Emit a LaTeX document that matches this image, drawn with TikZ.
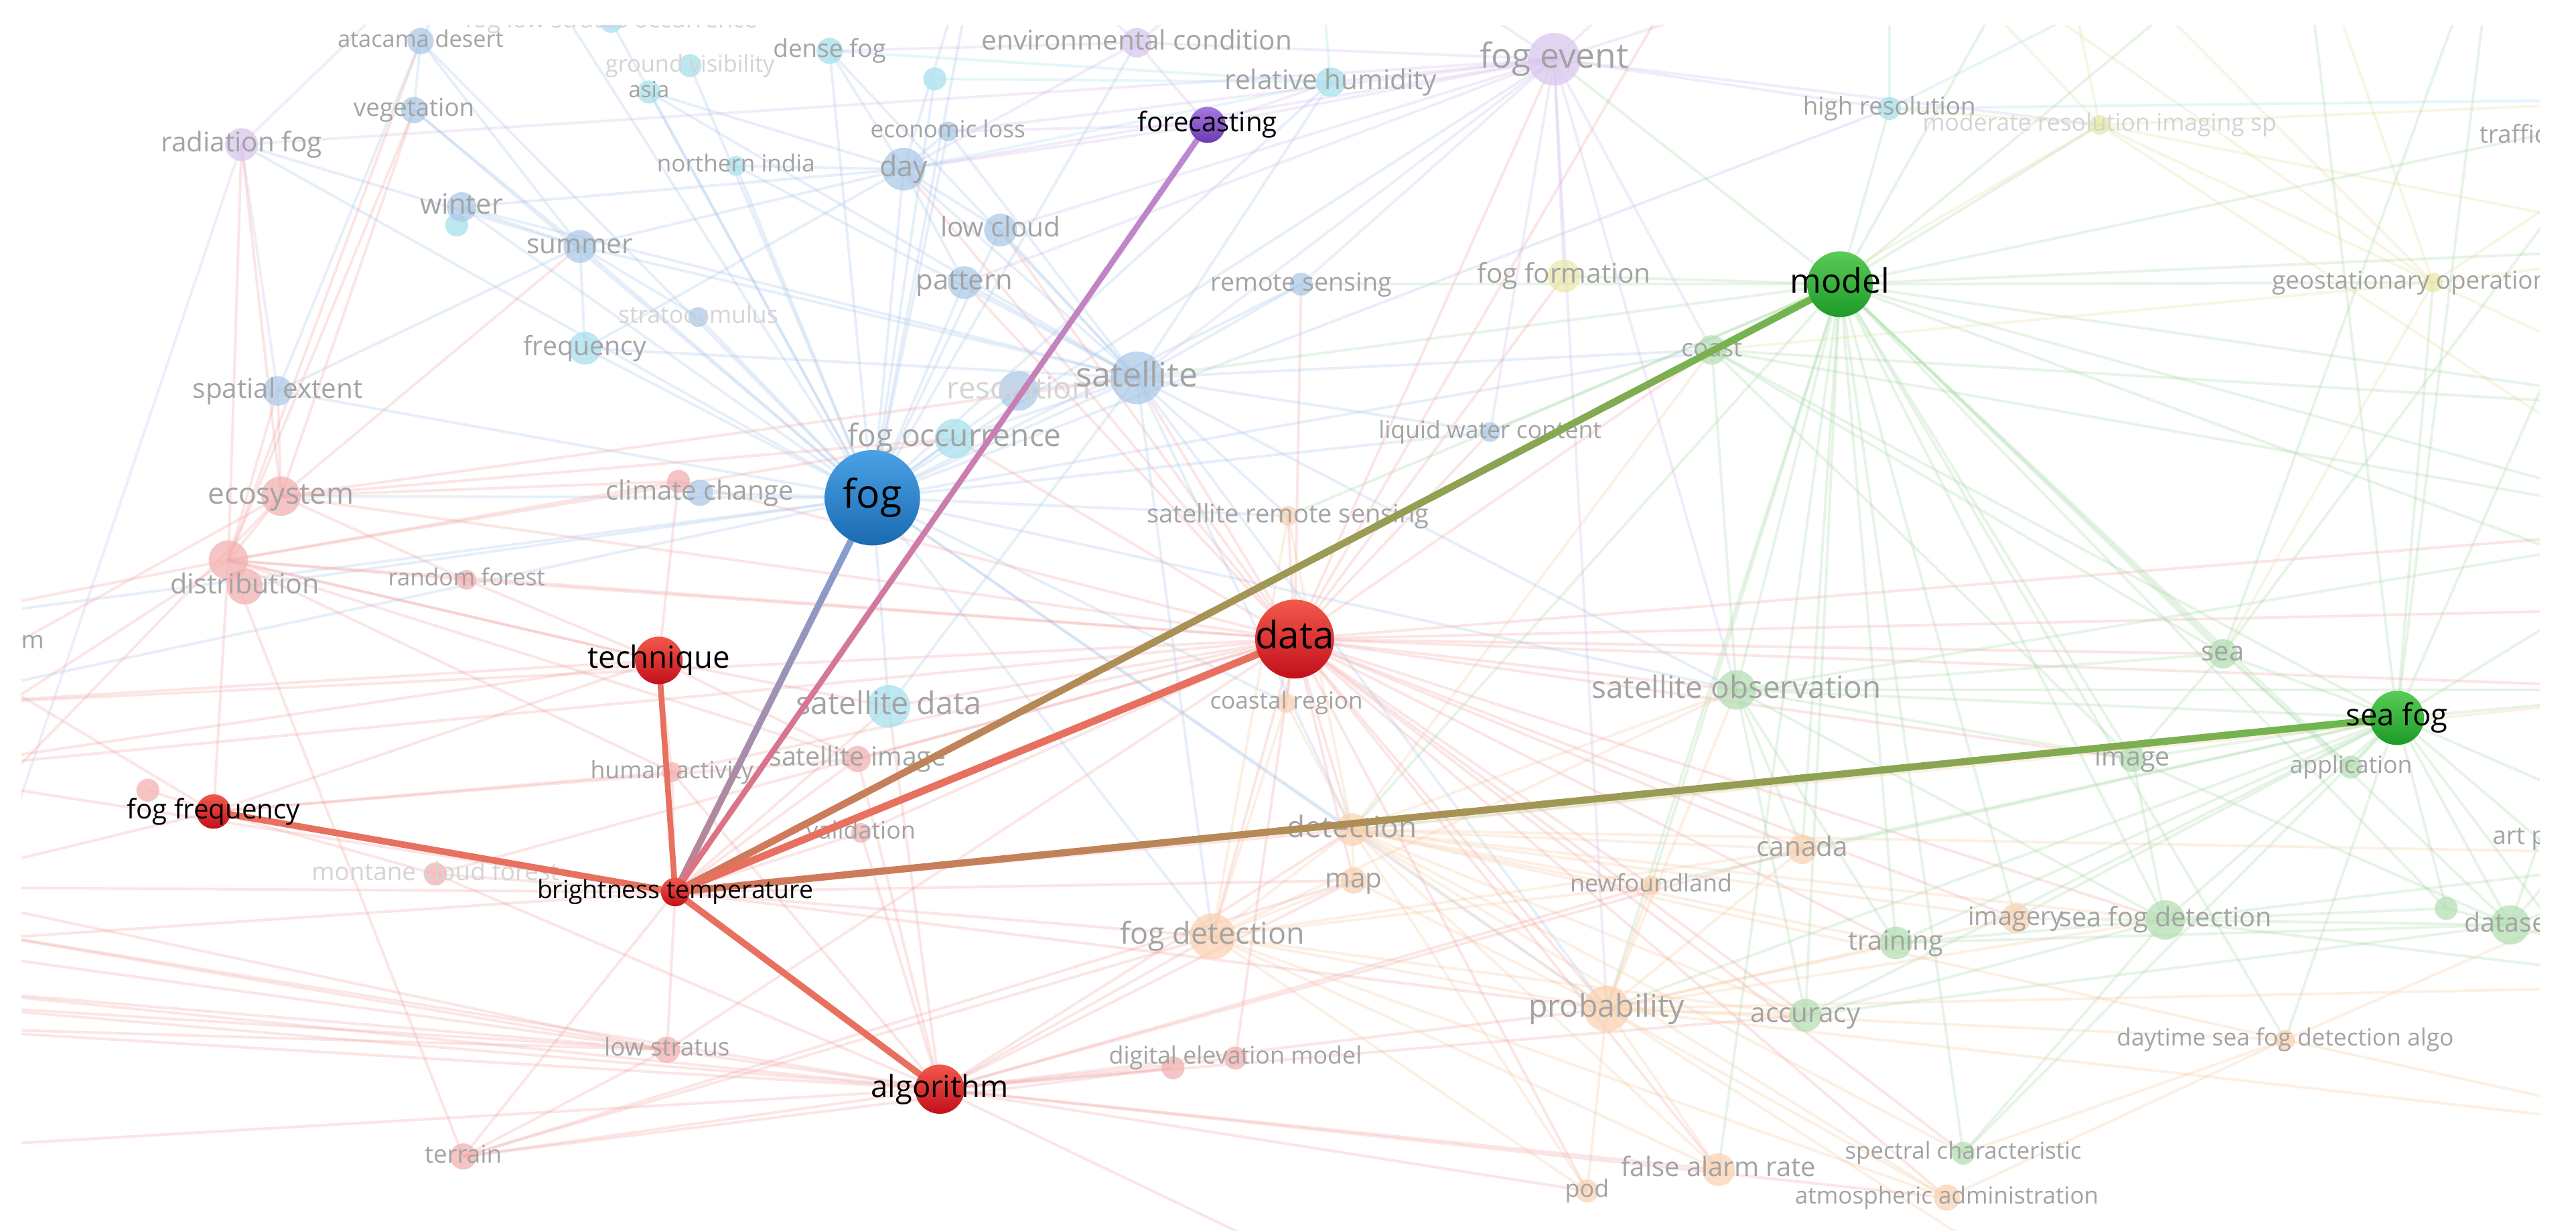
\documentclass[tikz,border=0pt]{standalone}
\usepackage{fontspec}
\setmainfont{Open Sans}
\usetikzlibrary{calc}
\pgfdeclarelayer{bgedge}
\pgfdeclarelayer{bgnode}
\pgfdeclarelayer{hledge}
\pgfsetlayers{bgedge,bgnode,hledge,main}

\definecolor{fBlue}{HTML}{A9C8E8}
\definecolor{fCyan}{HTML}{A6E0EC}
\definecolor{fRed}{HTML}{F2B0B0}
\definecolor{fOrange}{HTML}{FAD2B0}
\definecolor{fGreen}{HTML}{B2DEB2}
\definecolor{fPurple}{HTML}{D8C6EE}
\definecolor{fYellow}{HTML}{E8E8A8}
\definecolor{eBlue}{HTML}{9EC2EA}
\definecolor{eCyan}{HTML}{98DCEA}
\definecolor{eRed}{HTML}{F29A9A}
\definecolor{eOrange}{HTML}{F7C496}
\definecolor{eGreen}{HTML}{9ED69E}
\definecolor{ePurple}{HTML}{CDB2EA}
\definecolor{eYellow}{HTML}{DEDE96}
\definecolor{lg}{HTML}{A3A3A3}
\definecolor{lf}{HTML}{D4D4D4}
\definecolor{hRedT}{HTML}{F2594B}
\definecolor{hRedB}{HTML}{C30F1C}
\definecolor{hBlueT}{HTML}{4BA2E6}
\definecolor{hBlueB}{HTML}{1A6AB0}
\definecolor{hGreenT}{HTML}{5ACB57}
\definecolor{hGreenB}{HTML}{1D9A27}
\definecolor{hPurpleT}{HTML}{A678E2}
\definecolor{hPurpleB}{HTML}{6A3BAE}
\definecolor{eHL}{HTML}{E8705F}
\definecolor{eFogA}{HTML}{BE8290}
\definecolor{eFogB}{HTML}{7FA0D8}
\definecolor{eFcA}{HTML}{E0707E}
\definecolor{eFcB}{HTML}{BA88D6}
\definecolor{eMdA}{HTML}{D9735C}
\definecolor{eMdB}{HTML}{6CB84E}

\tikzset{
  fdot/.style={circle, inner sep=0pt, draw=none, fill opacity=0.72},
  hdot/.style={circle, inner sep=0pt, draw=none},
  lab/.style={inner sep=0pt},
  fedge/.style={line width=1.6pt, draw opacity=0.25},
}

% faint node: name, x, y, radius, fill, label, font size, label colour
\newcommand{\fnode}[8]{%
  \node[fdot, fill=#5, minimum size={2*#4pt}] (#1) at (#2,#3) {};
  \node[lab, text=#8, font=\fontsize{#7}{#7}\selectfont, text height={0.76*#7pt}, text depth={0.24*#7pt}] (#1-l) at (#2,#3) {#6};}
% highlighted node: name, x, y, radius, top colour, bottom colour, label, font size
\newcommand{\hnode}[8]{%
  \node[hdot, top color=#5, bottom color=#6, minimum size={2*#4pt}] (#1) at (#2,#3) {};
  \node[lab, text=black, font=\fontsize{#8}{#8}\selectfont, text height={0.76*#8pt}, text depth={0.24*#8pt}] (#1-l) at (#2,#3) {#7};}
% faint edges from one node to a list
\newcommand{\fe}[3]{\foreach \tgt in {#3}{\draw[fedge, draw=#2] (#1.center) -- (\tgt.center);}}
% gradient edge: from, to, colour at from, colour at to, width
\newcommand{\gedge}[5]{%
  \foreach \k in {0,...,19}{%
    \pgfmathsetmacro{\sA}{\k/20}%
    \pgfmathsetmacro{\sB}{(\k+1.25)/20}%
    \pgfmathtruncatemacro{\pc}{97-\k*5}%
    \draw[line width=#5pt, draw=#3!\pc!#4] ($(#1)!\sA!(#2)$) -- ($(#1)!\sB!(#2)$);}}

\begin{document}
\begin{tikzpicture}[x=1pt, y=-1pt]
\useasboundingbox (0,0) rectangle (1568,749);
\begin{pgfonlayer}{bgedge}
  \fill[white] (0,0) rectangle (1568,749);
\end{pgfonlayer}

% off-canvas ends of faint connectors
\coordinate (Lft1) at (-60,540); \coordinate (Lft2) at (-60,575);
\coordinate (Lft3) at (-60,600); \coordinate (Lft4) at (-60,625);
\coordinate (Lft5) at (-60,470); \coordinate (Lft6) at (-60,430);
\coordinate (Lft7) at (-60,380); \coordinate (Lft8) at (-60,700);
\coordinate (Lft9) at (-60,560); \coordinate (Lft10) at (-60,610);
\coordinate (Rgt1) at (1650,250); \coordinate (Rgt2) at (1650,320);
\coordinate (Rgt3) at (1650,420); \coordinate (Rgt4) at (1650,520);
\coordinate (Rgt5) at (1650,150); \coordinate (Rgt6) at (1650,600);
\coordinate (Rgt7) at (1650,60); \coordinate (Rgt8) at (1650,0);
\coordinate (Rgt9) at (1650,370); \coordinate (Rgt10) at (1650,690);
\coordinate (Top1) at (800,-60); \coordinate (Top2) at (1050,-60);
\coordinate (Top3) at (1250,-60); \coordinate (Top4) at (600,-60);
\coordinate (Top5) at (1400,-60); \coordinate (Top6) at (300,-60);
\coordinate (Top7) at (1520,-60); \coordinate (Top8) at (1150,-60);
\coordinate (Bot1) at (900,820); \coordinate (Bot2) at (1300,820);
\coordinate (artpos) at (1548,505);

\begin{pgfonlayer}{bgnode}
\fnode{atacama}{256}{25}{8}{fBlue}{atacama desert}{14}{lg}
\fnode{flso}{372}{13}{7}{fCyan}{fog low stratus occurrence}{14.5}{lf}
\fnode{densefog}{505}{31}{8}{fCyan}{dense fog}{15}{lg}
\fnode{groundvis}{420}{40}{7}{fCyan}{ground visibility}{14}{lf}
\fnode{asia}{395}{56}{7}{fCyan}{asia}{13.5}{lg}
\fnode{vegetation}{252}{67}{8}{fBlue}{vegetation}{15}{lg}
\fnode{radfog}{147}{88}{10}{fPurple}{radiation fog}{16.5}{lg}
\fnode{northindia}{448}{101}{6}{fCyan}{northern india}{14.3}{lg}
\fnode{winter2}{278}{137}{7}{fCyan}{}{10}{lg}
\fnode{winter}{281}{126}{9}{fBlue}{winter}{17}{lg}
\fnode{summer}{353}{150}{10}{fBlue}{summer}{16.5}{lg}
\fnode{stratocu}{425}{193}{6}{fBlue}{stratocumulus}{14.5}{lf}
\fnode{frequency}{356}{212}{10}{fCyan}{frequency}{16}{lg}
\fnode{spatial}{169}{238}{9}{fBlue}{spatial extent}{16.5}{lg}
\fnode{envcond}{692}{26}{9}{fPurple}{environmental condition}{16.5}{lg}
\fnode{fogevent}{946}{36}{16}{fPurple}{fog event}{21}{lg}
\fnode{cyandot}{569}{48}{7}{fCyan}{}{10}{lg}
\fnode{relhum}{810}{50}{9}{fCyan}{relative humidity}{16.5}{lg}
\fnode{econloss}{577}{80}{6}{fBlue}{economic loss}{14.3}{lg}
\fnode{day}{550}{103}{13}{fBlue}{day}{17.5}{lg}
\fnode{lowcloud}{609}{140}{10}{fBlue}{low cloud}{16.5}{lg}
\fnode{pattern}{587}{172}{10}{fBlue}{pattern}{17}{lg}
\fnode{remsens}{792}{173}{7}{fBlue}{remote sensing}{15.3}{lg}
\fnode{fogform}{952}{168}{10}{fYellow}{fog formation}{16.5}{lg}
\fnode{coast}{1042}{213}{9}{fGreen}{coast}{15}{lg}
\fnode{resolution}{620}{238}{12}{fBlue}{resolution}{18.5}{lf}
\fnode{satellite}{692}{230}{16}{fBlue}{satellite}{20.5}{lg}
\fnode{highres}{1150}{66}{7}{fCyan}{high resolution}{15}{lg}
\fnode{modres}{1278}{76}{6}{fYellow}{moderate resolution imaging sp}{14.5}{lf}
\fnode{geostat}{1481}{172}{6}{fYellow}{}{10}{lg}
\node[lab, text=lg, font=\fontsize{15}{15}\selectfont, text height=11.4pt, text depth=3.6pt] (geostat-l) at (1473,172) {geostationary operational};
\fnode{ecosystem}{171}{302}{12}{fRed}{ecosystem}{18}{lg}
\fnode{climch}{413}{293}{7}{fRed}{}{10}{lg}
\fnode{climch2}{426}{300}{8}{fBlue}{climate change}{16.3}{lg}
\fnode{distr}{139}{341}{12}{fRed}{}{10}{lg}
\fnode{distr2}{149}{357}{11}{fRed}{distribution}{16.8}{lg}
\fnode{randfor}{284}{353}{6}{fRed}{random forest}{14.3}{lg}
\fnode{humact}{409}{470}{6}{fRed}{human activity}{14.5}{lg}
\fnode{satimg}{522}{462}{8}{fRed}{satellite image}{16}{lg}
\fnode{ffreq2}{90}{481}{7}{fRed}{}{10}{lg}
\fnode{fogocc}{581}{267}{12}{fCyan}{fog occurrence}{18.8}{lg}
\fnode{lwc}{907}{263}{6}{fBlue}{liquid water content}{14.5}{lg}
\fnode{srs}{784}{314}{6}{fOrange}{satellite remote sensing}{15.5}{lg}
\fnode{coastreg}{783}{428}{6}{fOrange}{coastal region}{14.3}{lg}
\fnode{satdata}{541}{430}{13}{fCyan}{satellite data}{19}{lg}
\fnode{satobs}{1057}{420}{12}{fGreen}{satellite observation}{18.7}{lg}
\fnode{detection}{823}{505}{10}{fOrange}{detection}{18}{lg}
\fnode{validation}{524}{507}{6}{fRed}{validation}{14.6}{lg}
\fnode{sea}{1353}{398}{9}{fGreen}{sea}{16.3}{lg}
\fnode{image}{1298}{462}{8}{fGreen}{image}{16}{lg}
\fnode{application}{1431}{467}{7}{fGreen}{application}{14.5}{lg}
\fnode{montane}{265}{532}{7}{fRed}{montane cloud forest}{15}{lf}
\fnode{lowstrat}{406}{639}{8}{fRed}{low stratus}{15}{lg}
\fnode{terrain}{282}{704}{8}{fRed}{terrain}{15}{lg}
\fnode{map}{824}{536}{8}{fOrange}{map}{16.5}{lg}
\fnode{newf}{1005}{539}{6}{fOrange}{newfoundland}{14.6}{lg}
\fnode{fogdet}{738}{570}{14}{fOrange}{fog detection}{18.3}{lg}
\fnode{prob}{978}{614}{14}{fOrange}{probability}{19}{lg}
\fnode{dem1}{714}{650}{7}{fRed}{}{10}{lg}
\fnode{dem2}{752}{644}{7}{fRed}{digital elevation model}{14.6}{lg}
\fnode{pod}{966}{725}{7}{fOrange}{pod}{14.6}{lg}
\fnode{far}{1046}{712}{10}{fOrange}{false alarm rate}{16.3}{lg}
\fnode{canada}{1097}{517}{9}{fOrange}{canada}{16.5}{lg}
\fnode{imagery}{1227}{559}{9}{fOrange}{imagery}{15.5}{lg}
\fnode{sfdet}{1318}{560}{12}{fGreen}{sea fog detection}{16.2}{lg}
\fnode{gdot}{1489}{553}{7}{fGreen}{}{10}{lg}
\fnode{dataset}{1528}{563}{12}{fGreen}{dataset}{16}{lg}
\fnode{training}{1154}{574}{10}{fGreen}{training}{16.2}{lg}
\fnode{accuracy}{1099}{618}{10}{fGreen}{accuracy}{16.5}{lg}
\fnode{dsfda}{1391}{633}{6}{fOrange}{daytime sea fog detection algo}{14.4}{lg}
\fnode{spectral}{1195}{702}{7}{fGreen}{spectral characteristic}{14.2}{lg}
\fnode{atmadm}{1185}{729}{8}{fOrange}{atmospheric administration}{14.3}{lg}
\node[lab, text=lg, font=\fontsize{15}{15}\selectfont, text height=11.4pt, text depth=3.6pt, anchor=east] (mlab) at (27,391) {m};
\node[lab, text=lg, font=\fontsize{15}{15}\selectfont, text height=11.4pt, text depth=3.6pt, anchor=west] (traffic) at (1509,83) {traffic};
\node[lab, text=lg, font=\fontsize{15}{15}\selectfont, text height=11.4pt, text depth=3.6pt, anchor=west] (artp) at (1517,510) {art p};
\end{pgfonlayer}

% highlighted nodes
\hnode{fog}{531}{303}{29}{hBlueT}{hBlueB}{fog}{24}
\hnode{data}{788}{389}{24}{hRedT}{hRedB}{data}{23}
\hnode{model}{1120}{173}{20}{hGreenT}{hGreenB}{model}{20.5}
\hnode{seafog}{1459}{437}{16.5}{hGreenT}{hGreenB}{sea fog}{18.5}
\hnode{technique}{401}{402}{14.5}{hRedT}{hRedB}{technique}{18.6}
\hnode{algorithm}{572}{663}{15}{hRedT}{hRedB}{algorithm}{18.5}
\hnode{ffreq}{130}{494}{10.5}{hRedT}{hRedB}{fog frequency}{16.4}
\hnode{bt}{411}{543}{8.7}{hRedT}{hRedB}{brightness temperature}{15.2}
\hnode{forecasting}{735}{76}{11}{hPurpleT}{hPurpleB}{forecasting}{16.4}

% faint connectors
\begin{pgfonlayer}{bgedge}
\fe{fog}{eBlue}{atacama,densefog,asia,vegetation,northindia,winter,summer,stratocu,frequency,spatial,day,lowcloud,pattern,econloss,satellite,resolution,fogocc,climch2,remsens,relhum,lwc,satdata,cyandot,groundvis,flso,radfog,envcond,fogevent,highres,coast,satobs,detection,fogdet,prob,srs,coastreg,Top4,Top6,Lft7,Lft6,ecosystem,distr2}
\fe{data}{eRed}{satellite,fogocc,srs,coastreg,detection,map,fogdet,prob,satobs,canada,newf,validation,satimg,satdata,distr,ecosystem,climch,randfor,humact,lwc,remsens,fogevent,dem2,far,pod,accuracy,training,image,imagery,sfdet,sea,coast,fogform,day,pattern,lowcloud,Lft5,Lft6,Rgt2,Rgt3,Top2,atmadm,spectral,montane,lowstrat,Rgt9}
\fe{model}{eGreen}{coast,satobs,sea,image,sfdet,training,accuracy,dataset,application,highres,fogform,fogevent,geostat,modres,detection,prob,lwc,remsens,canada,imagery,gdot,Rgt1,Rgt2,Rgt5,Rgt7,Top3,Top5,satellite,srs,newf,far,spectral,dsfda,Rgt9}
\fe{seafog}{eGreen}{sea,image,application,dataset,sfdet,dsfda,training,accuracy,spectral,satobs,coast,Rgt3,Rgt4,Rgt6,gdot,geostat,canada,imagery,newf,detection,prob,Top5,Rgt2,Top7,Rgt8,Rgt10}
\fe{fogevent}{ePurple}{relhum,envcond,fogform,highres,modres,coast,satobs,lwc,remsens,day,lowcloud,Top1,Top2,Top3,satellite,prob,radfog,econloss,pattern}
\fe{satellite}{eBlue}{day,lowcloud,pattern,remsens,fogocc,resolution,lwc,satdata,srs,fogdet,detection,summer,frequency,econloss,winter,relhum,satobs,coast,prob,northindia,asia,densefog}
\fe{algorithm}{eRed}{fogdet,detection,map,prob,dem1,dem2,pod,far,lowstrat,terrain,montane,satimg,validation,satdata,humact,atmadm,newf,Lft3,Lft4,Lft8,canada,accuracy,Bot1,Lft9,Lft10}
\fe{detection}{eOrange}{canada,newf,map,far,pod,atmadm,spectral,accuracy,training,imagery,sfdet,satobs,coast,Rgt3,Rgt4,srs,coastreg,fogdet,prob,dsfda}
\fe{prob}{eOrange}{canada,newf,far,pod,atmadm,accuracy,training,imagery,sfdet,satobs,map,fogdet,Rgt6,dsfda,Bot2,Rgt10}
\fe{fogdet}{eOrange}{map,newf,canada,far,pod,satobs,coastreg,srs,atmadm,accuracy}
\fe{distr}{eRed}{ecosystem,radfog,spatial,randfor,climch,Lft7,Lft5,ffreq,technique,satimg,humact,terrain,fogocc,vegetation,atacama}
\fe{ecosystem}{eRed}{climch,fogocc,randfor,satellite,Lft6,Lft1,spatial,radfog,vegetation,summer}
\fe{bt}{eRed}{Lft1,Lft2,Lft5,montane,lowstrat,terrain,humact,satimg,validation,satdata,detection,map,fogdet,prob}
\fe{lowstrat}{eRed}{Lft2,Lft3,Lft4,terrain,Lft1,Lft9,Lft10}
\fe{technique}{eRed}{distr,randfor,humact,satimg,Lft5,Lft6,ffreq,climch,satdata}
\fe{ffreq}{eRed}{Lft1,Lft7,montane,satimg,humact,ffreq2}
\fe{terrain}{eRed}{dem1,map,fogdet}
\fe{sfdet}{eGreen}{dataset,gdot,training,accuracy,image,imagery,Rgt4,Rgt6,satobs,spectral}
\fe{dataset}{eGreen}{gdot,Rgt4,Rgt3,Rgt6,training,accuracy,image,artpos}
\fe{satobs}{eGreen}{coast,sea,image,training,accuracy,canada,Rgt2,Rgt3}
\fe{day}{eBlue}{lowcloud,pattern,econloss,summer,winter,frequency,asia,densefog,northindia,Top4}
\fe{summer}{eBlue}{winter,vegetation,atacama,frequency,stratocu,spatial,radfog}
\fe{atacama}{eBlue}{vegetation,spatial,Top6}
\fe{radfog}{ePurple}{Lft8,spatial,Top6}
\fe{relhum}{eCyan}{densefog,cyandot,day,Top1}
\fe{envcond}{ePurple}{Top4,densefog,day,Top1}
\fe{forecasting}{ePurple}{relhum,envcond,fogevent,day,econloss}
\fe{geostat}{eYellow}{Top5,Rgt5,modres,Rgt1,Top3,Top8,Rgt7,coast,sea}
\fe{modres}{eYellow}{highres,Top3,Rgt7,coast,Rgt5,Rgt2,Top8}
\fe{highres}{eCyan}{Top5,Rgt7,Top8}
\fe{coast}{eGreen}{sea,image,Rgt1,Rgt2}
\fe{sea}{eGreen}{Top7,Rgt8,image,application}
\fe{dsfda}{eOrange}{Rgt4,Rgt10,spectral,atmadm}
\end{pgfonlayer}

% highlighted connectors of brightness temperature
\begin{pgfonlayer}{hledge}
\gedge{bt}{fog}{eFogA}{eFogB}{4}
\gedge{bt}{forecasting}{eFcA}{eFcB}{3.5}
\gedge{bt}{model}{eMdA}{eMdB}{4.3}
\gedge{bt}{seafog}{eMdA}{eMdB}{4.3}
\draw[line width=4.5pt, draw=eHL] (bt.center) -- (data.center);
\draw[line width=3.5pt, draw=eHL] (bt.center) -- (technique.center);
\draw[line width=4pt, draw=eHL] (bt.center) -- (algorithm.center);
\draw[line width=4pt, draw=eHL] (bt.center) -- (ffreq.center);
\end{pgfonlayer}

% white margins of the view
\fill[white] (0,0) rectangle (1568,15);
\fill[white] (0,0) rectangle (13,749);
\fill[white] (1546,0) rectangle (1568,749);
\end{tikzpicture}
\end{document}
